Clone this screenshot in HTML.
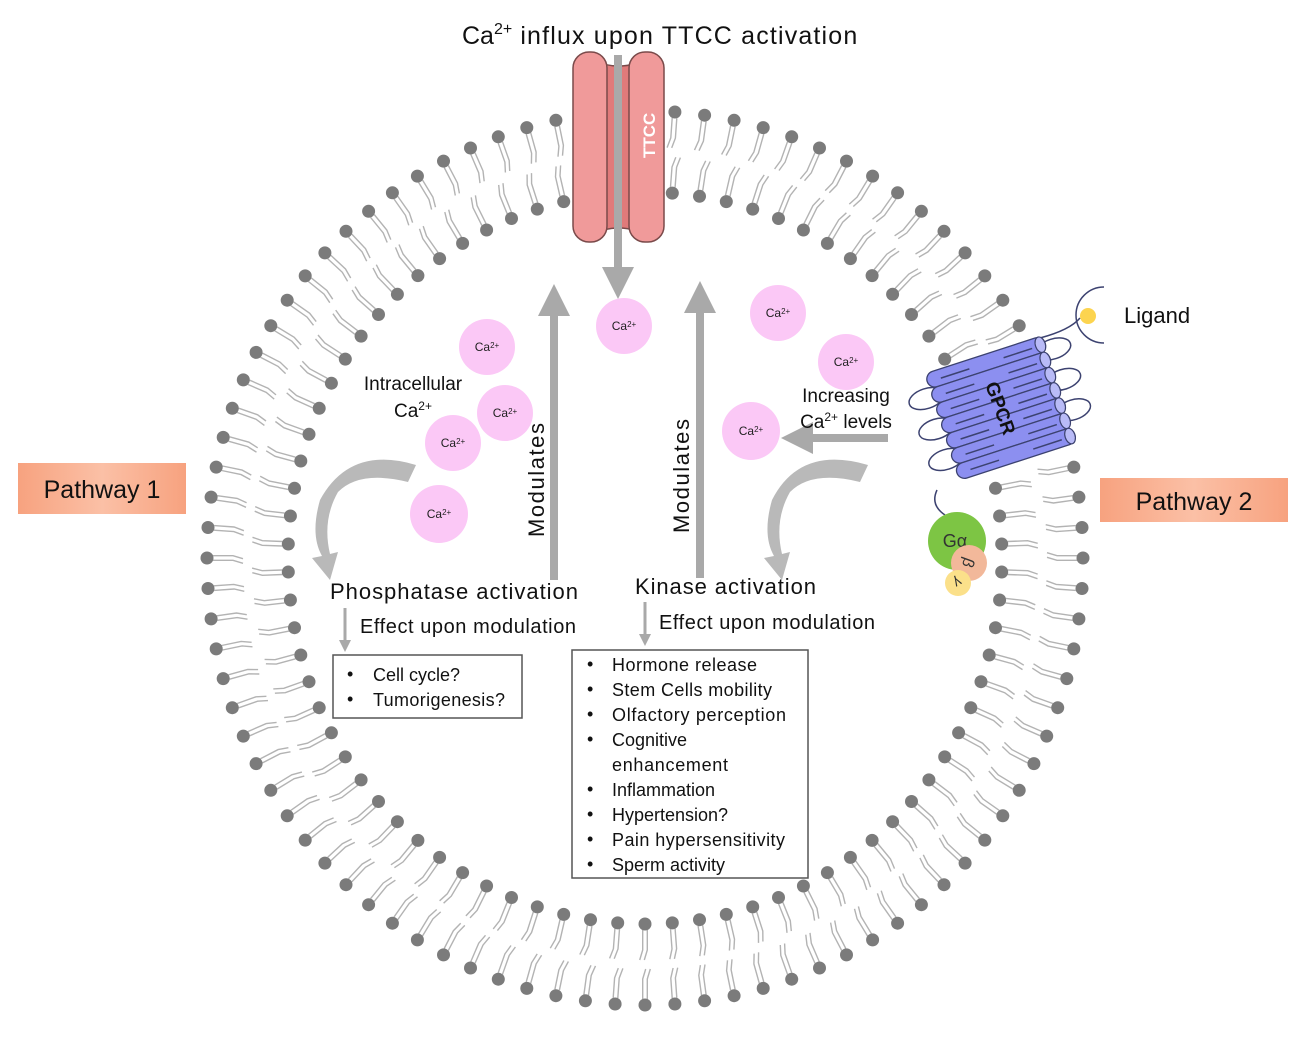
<!DOCTYPE html>
<html><head><meta charset="utf-8"><style>
html,body{margin:0;padding:0;background:#fff;}
svg{display:block;font-family:"Liberation Sans",sans-serif;}
</style></head><body>
<svg id="s" width="1307" height="1038" viewBox="0 0 1307 1038" xmlns="http://www.w3.org/2000/svg">
<defs>
<linearGradient id="pw" x1="0" y1="0" x2="1" y2="0"><stop offset="0" stop-color="#f7a27f"/><stop offset="0.5" stop-color="#fbc0a6"/><stop offset="1" stop-color="#f7a27f"/></linearGradient>
<marker id="ah" markerWidth="4" markerHeight="4" refX="2" refY="2" orient="auto" markerUnits="strokeWidth"><path d="M0,0 L4,2 L0,4 Z" fill="#a9a9a9"/></marker>
</defs>
<g id="lip"></g>

<!-- TTCC -->
<g stroke="#7a4a4a" stroke-width="1.5">
<path d="M592,60 Q618,72 646,60 L646,234 Q618,222 592,234 Z" fill="#e07a7a"/>
<rect x="573" y="52" width="34" height="190" rx="16" fill="#f09a9a"/>
<rect x="629" y="52" width="35" height="190" rx="16" fill="#f09a9a"/>
</g>
<text x="0" y="0" transform="translate(655,158) rotate(-90)" font-size="17" font-weight="bold" fill="#fff">TTCC</text>

<!-- arrows -->
<g stroke="#a9a9a9" stroke-width="8" fill="none">
<line x1="618" y1="55" x2="618" y2="283" marker-end="url(#ah)"/>
<line x1="554" y1="580" x2="554" y2="300" marker-end="url(#ah)"/>
<line x1="700" y1="578" x2="700" y2="297" marker-end="url(#ah)"/>
<line x1="888" y1="438" x2="797" y2="438" marker-end="url(#ah)"/>
</g>
<g stroke="#a9a9a9" stroke-width="3" fill="none">
<line x1="345" y1="608" x2="345" y2="646" marker-end="url(#ah)"/>
<line x1="645" y1="602" x2="645" y2="640" marker-end="url(#ah)"/>
</g>
<!-- curved arrows -->
<path d="M416,465 Q350,445 320,500 Q310,535 322,556 L312,558 L330,580 L338,552 L330,554 Q322,520 338,492 Q360,470 408,482 Z" fill="#b9b9b9"/>
<path d="M868,465 Q800,445 772,500 Q762,535 774,556 L764,558 L782,580 L790,552 L782,554 Q774,520 790,492 Q812,470 860,482 Z" fill="#b9b9b9"/>

<!-- Ca circles -->
<g fill="#fbc8f6">
<circle cx="487" cy="347" r="28"/><circle cx="505" cy="413" r="28"/><circle cx="453" cy="443" r="28"/><circle cx="439" cy="514" r="29"/>
<circle cx="624" cy="326" r="28"/><circle cx="778" cy="313" r="28"/><circle cx="846" cy="362" r="28"/><circle cx="751" cy="431" r="29"/>
</g>
<g font-size="12" fill="#222" text-anchor="middle">
<text x="487" y="351">Ca<tspan font-size="8" dy="-3">2+</tspan></text>
<text x="505" y="417">Ca<tspan font-size="8" dy="-3">2+</tspan></text>
<text x="453" y="447">Ca<tspan font-size="8" dy="-3">2+</tspan></text>
<text x="439" y="518">Ca<tspan font-size="8" dy="-3">2+</tspan></text>
<text x="624" y="330">Ca<tspan font-size="8" dy="-3">2+</tspan></text>
<text x="778" y="317">Ca<tspan font-size="8" dy="-3">2+</tspan></text>
<text x="846" y="366">Ca<tspan font-size="8" dy="-3">2+</tspan></text>
<text x="751" y="435">Ca<tspan font-size="8" dy="-3">2+</tspan></text>
</g>

<!-- GPCR -->
<g fill="none" stroke="#3c4270" stroke-width="1.5">
<path d="M1040,338 Q1070,330 1080,318"/>
<path d="M1104,287 A28,28 0 0 0 1104,343"/>
<path d="M937,490 Q930,505 945,515"/>
</g>
<circle cx="1088" cy="316" r="8" fill="#fcd44f"/>
<g transform="translate(1001,408) rotate(-18)">
<g fill="none" stroke="#3c4270" stroke-width="1.5">
<ellipse cx="-68" cy="-32" rx="18" ry="10"/><ellipse cx="-68" cy="0" rx="18" ry="10"/><ellipse cx="-68" cy="32" rx="18" ry="10"/>
<ellipse cx="68" cy="-40" rx="18" ry="10"/><ellipse cx="68" cy="-8" rx="18" ry="10"/><ellipse cx="68" cy="24" rx="18" ry="10"/>
</g>
<g id="cyl"></g>
<text x="0" y="0" transform="rotate(88)" font-size="19" font-weight="bold" fill="#111" text-anchor="middle" dy="7">GPCR</text>
</g>
<circle cx="957" cy="541" r="29" fill="#7dc544"/>
<text x="955" y="547" font-size="18" fill="#333" text-anchor="middle">Gα</text>
<circle cx="969" cy="563" r="18" fill="#f2b89a"/>
<text x="0" y="0" transform="translate(969,563) rotate(110)" font-size="16" fill="#333" text-anchor="middle" dy="6">β</text>
<circle cx="958" cy="583" r="13" fill="#fbe08a"/>
<text x="0" y="0" transform="translate(958,583) rotate(150)" font-size="14" fill="#333" text-anchor="middle" dy="5">γ</text>

<!-- Pathway boxes -->
<rect x="18" y="463" width="168" height="51" fill="url(#pw)"/>
<text x="102" y="498" font-size="25" text-anchor="middle" fill="#111">Pathway 1</text>
<rect x="1100" y="478" width="188" height="44" fill="url(#pw)"/>
<text x="1194" y="510" font-size="25" text-anchor="middle" fill="#111">Pathway 2</text>

<!-- texts -->
<g fill="#111">
<text x="462" y="44" font-size="25">Ca<tspan font-size="16" dy="-10">2+</tspan><tspan dy="10" textLength="345"> influx  upon TTCC  activation</tspan></text>
<text x="1124" y="323" font-size="22">Ligand</text>
<text x="413" y="390" font-size="19" text-anchor="middle">Intracellular</text>
<text x="413" y="417" font-size="19" text-anchor="middle">Ca<tspan font-size="12" dy="-7">2+</tspan></text>
<text x="846" y="402" font-size="19" text-anchor="middle">Increasing</text>
<text x="846" y="428" font-size="19" text-anchor="middle">Ca<tspan font-size="12" dy="-7">2+</tspan><tspan dy="7"> levels</tspan></text>
<text transform="translate(544,537) rotate(-90)" font-size="22" textLength="114">Modulates</text>
<text transform="translate(689,533) rotate(-90)" font-size="22" textLength="114">Modulates</text>
<text x="330" y="599" font-size="22" textLength="248">Phosphatase activation</text>
<text x="360" y="633" font-size="20" textLength="216">Effect upon modulation</text>
<text x="635" y="594" font-size="22" textLength="181">Kinase activation</text>
<text x="659" y="629" font-size="20" textLength="216">Effect upon modulation</text>
</g>
<rect x="333" y="655" width="189" height="63" fill="#fff" stroke="#555" stroke-width="1.5"/>
<g font-size="18" fill="#111">
<text x="347" y="680">•</text><text x="373" y="681">Cell cycle?</text>
<text x="347" y="705">•</text><text x="373" y="706" textLength="132">Tumorigenesis?</text>
</g>
<rect x="572" y="650" width="236" height="228" fill="#fff" stroke="#555" stroke-width="1.5"/>
<g font-size="18" fill="#111">
<text x="587" y="670">•</text><text x="612" y="671" textLength="145">Hormone release</text>
<text x="587" y="695">•</text><text x="612" y="696" textLength="160">Stem Cells mobility</text>
<text x="587" y="720">•</text><text x="612" y="721" textLength="174">Olfactory perception</text>
<text x="587" y="745">•</text><text x="612" y="746">Cognitive</text>
<text x="612" y="771" textLength="116">enhancement</text>
<text x="587" y="795">•</text><text x="612" y="796">Inflammation</text>
<text x="587" y="820">•</text><text x="612" y="821">Hypertension?</text>
<text x="587" y="845">•</text><text x="612" y="846" textLength="173">Pain hypersensitivity</text>
<text x="587" y="870">•</text><text x="612" y="871">Sperm activity</text>
</g>
</svg>
<script>
(function(){
var NS="http://www.w3.org/2000/svg",g=document.getElementById("lip"),cx=645,cy=558;
function el(n,a,p){var e=document.createElementNS(NS,n);for(var k in a)e.setAttribute(k,a[k]);(p||g).appendChild(e);return e;}
function leaf(n,rx,ry,dir,off){
 for(var i=0;i<n;i++){
  var t=(i+off)/n*2*Math.PI,c=Math.cos(t),s=Math.sin(t);
  var hx=cx+rx*c,hy=cy+ry*s;
  var ux=-c*dir,uy=-s*dir;
  var px=-uy,py=ux;
  var d="";
  [-2.3,2.3].forEach(function(o){
   var x1=hx+ux*6+px*o,y1=hy+uy*6+py*o,x2=hx+ux*26+px*o,y2=hy+uy*26+py*o,x3=hx+ux*36+px*(o+3),y3=hy+uy*36+py*(o+3);
   d+="M"+x1.toFixed(1)+","+y1.toFixed(1)+"L"+x2.toFixed(1)+","+y2.toFixed(1)+"L"+x3.toFixed(1)+","+y3.toFixed(1);
  });
  el("path",{d:d,stroke:"#b3b3b3","stroke-width":"1.4",fill:"none"});
  el("circle",{cx:hx.toFixed(1),cy:hy.toFixed(1),r:"6.5",fill:"#7b7b7b"});
 }
}
leaf(92,438,447,1,0);
leaf(82,357,366,-1,0.5);
var cyl=document.getElementById("cyl");
for(var j=0;j<7;j++){
 var y=-56+j*16;
 el("rect",{x:-62,y:y,width:124,height:16,rx:8,fill:"#8c8ff0",stroke:"#3c4270","stroke-width":"1.3"},cyl);
 el("ellipse",{cx:57,cy:y+8,rx:5,ry:8,fill:"#b9bbf7",stroke:"#3c4270","stroke-width":"1.2"},cyl);
 el("line",{x1:-48,y1:y+9,x2:-18,y2:y+9,stroke:"#3c4270","stroke-width":"1.5"},cyl);
 el("line",{x1:18,y1:y+9,x2:48,y2:y+9,stroke:"#3c4270","stroke-width":"1.5"},cyl);
}
})();
</script>
</body></html>
